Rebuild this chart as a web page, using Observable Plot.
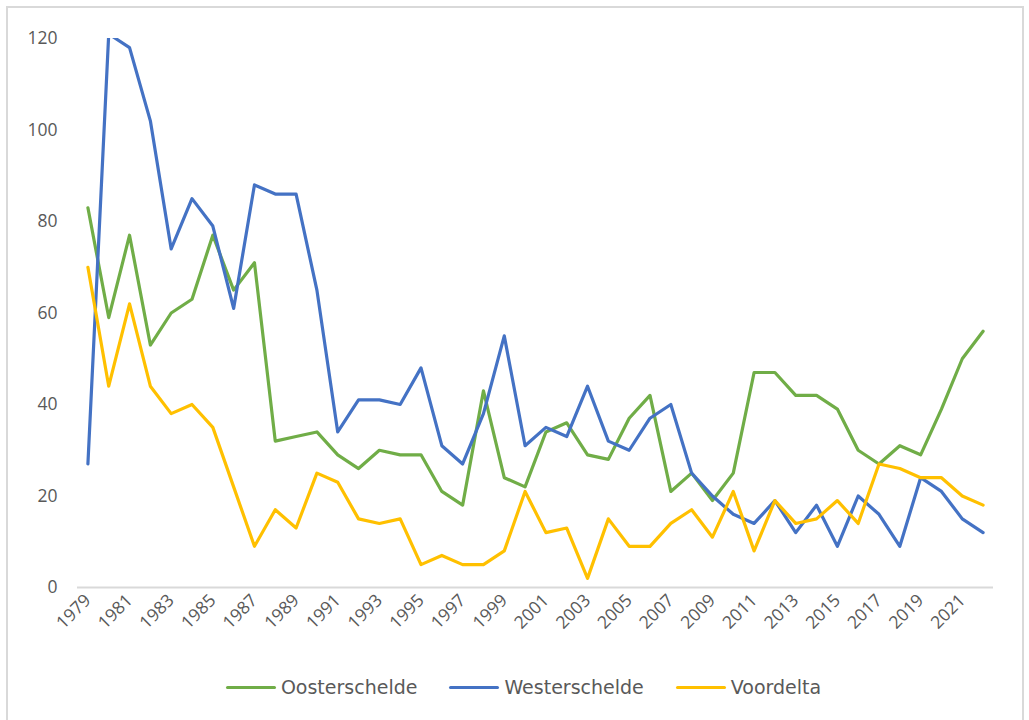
<!DOCTYPE html>
<html>
<head>
<meta charset="utf-8">
<script src="https://cdn.jsdelivr.net/npm/d3@7"></script>
<script src="https://cdn.jsdelivr.net/npm/@observablehq/plot@0.6"></script>
<style>
  html, body { margin: 0; padding: 0; background: #fff; }
  #wrap { position: relative; width: 1029px; height: 720px; overflow: hidden; background: #fff; }
  #frame { position: absolute; left: 6px; top: 6px; width: 1018px; height: 760px; border: 2px solid #d9d9d9; box-sizing: border-box; }
  #chart { position: absolute; left: 0; top: 0; }
  #legend { position: absolute; left: 0; width: 1029px; top: 673px; height: 28px; display: flex; justify-content: center; align-items: center; gap: 32px; padding-left: 18px; box-sizing: border-box;
    font-family: "DejaVu Sans", Verdana, sans-serif; font-size: 19px; color: #595959; }
  .item { display: flex; align-items: center; gap: 5px; }
  .sw { width: 50px; height: 3px; border-radius: 1.5px; }
</style>
</head>
<body>
<div id="wrap">
  <div id="frame"></div>
  <div id="chart"></div>
  <div id="legend"></div>
</div>
<script>
const years = d3.range(1979, 2023);
const seriesNames = ["Oosterschelde", "Westerschelde", "Voordelta"];
const seriesColors = ["#70AD47", "#4472C4", "#FFC000"];
const oosterschelde = [83,59,77,53,60,63,77,65,71,32,33,34,29,26,30,29,29,21,18,43,24,22,34,36,29,28,37,42,21,25,19,25,47,47,42,42,39,30,27,31,29,39,50,56];
const westerschelde = [27,121,118,102,74,85,79,61,88,86,86,65,34,41,41,40,48,31,27,38,55,31,35,33,44,32,30,37,40,25,20,16,14,19,12,18,9,20,16,9,24,21,15,12];
const voordelta = [70,44,62,44,38,40,35,22,9,17,13,25,23,15,14,15,5,7,5,5,8,21,12,13,2,15,9,9,14,17,11,21,8,19,14,15,19,14,27,26,24,24,20,18];
const yTicks = [0, 20, 40, 60, 80, 100, 120];
const xTicks = d3.range(1979, 2022, 2);

const valuesBySeries = [oosterschelde, westerschelde, voordelta];
const data = [];
seriesNames.forEach((name, i) => {
  years.forEach((yr, j) => data.push({series: name, year: yr, value: valuesBySeries[i][j]}));
});

const chart = Plot.plot({
  width: 1029,
  height: 650,
  marginTop: 38,
  marginBottom: 63,
  marginLeft: 77,
  marginRight: 36,
  style: { fontFamily: "'Open Sans', 'Noto Sans', sans-serif", fontSize: "17.5px", color: "#595959", background: "transparent" },
  x: { domain: [1978.5, 2022.5], ticks: xTicks, tickFormat: d => String(d), tickSize: 0, tickPadding: 10, tickRotate: -45, label: null },
  y: { domain: [0, 120], ticks: yTicks, tickSize: 0, tickPadding: 20, label: null },
  color: { domain: seriesNames, range: seriesColors },
  marks: [
    Plot.ruleY([0], { stroke: "#d9d9d9", strokeWidth: 2 }),
    Plot.line(data, { x: "year", y: "value", z: "series", stroke: "series", strokeWidth: 3.2, strokeLinejoin: "round", strokeLinecap: "round", clip: true })
  ]
});
document.getElementById("chart").appendChild(chart);

const legend = document.getElementById("legend");
seriesNames.forEach((name, i) => {
  const item = document.createElement("div");
  item.className = "item";
  const sw = document.createElement("div");
  sw.className = "sw";
  sw.style.background = seriesColors[i];
  const t = document.createElement("span");
  t.textContent = name;
  item.appendChild(sw);
  item.appendChild(t);
  legend.appendChild(item);
});
</script>
</body>
</html>
